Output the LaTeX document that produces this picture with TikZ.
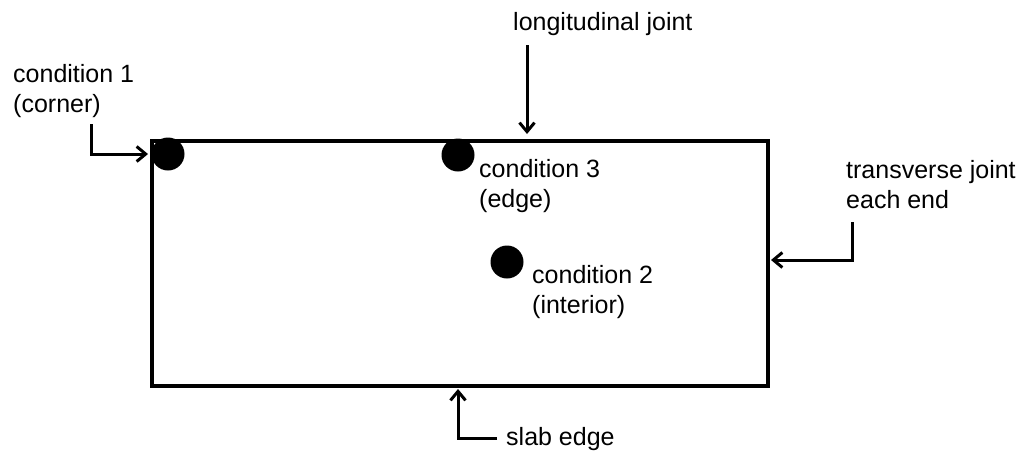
\documentclass[tikz,border=0pt]{standalone}
\usepackage{fontspec}
\setmainfont{Liberation Sans}
\usetikzlibrary{arrows.meta}
\tikzset{
  lbl/.style={inner sep=0pt, align=left, anchor=base west, font=\fontsize{25}{30.5}\selectfont},
  dot/.style={circle, fill=black, inner sep=0pt, minimum size=33pt},
  ptr/.style={line width=3pt, -{Straight Barb[length=9pt,width=15pt,line width=3pt]}},
}
\begin{document}
\begin{tikzpicture}[x=1pt,y=-1pt]
\useasboundingbox (0,0) rectangle (1028,458);
% slab
\node[draw, line width=4pt, minimum width=616pt, minimum height=245pt, inner sep=0pt, anchor=north west] (slab) at (150,139) {};
% dots
\node[dot] (d1) at (168,154) {};
\node[dot] (d3) at (458,155) {};
\node[dot] (d2) at (507,262) {};
% labels (base = baseline of last line)
\node[lbl] (c1) at (13,112.5) {condition 1\\(corner)};
\node[lbl] (lj) at (513,30) {longitudinal joint};
\node[lbl] (c3) at (479,207.5) {condition 3\\(edge)};
\node[lbl] (c2) at (532,313.5) {condition 2\\(interior)};
\node[lbl] (tj) at (846,208.5) {transverse joint\\each end};
\node[lbl] (se) at (506,445) {slab edge};
% arrow coordinates
\coordinate (a1s) at (91,124);
\coordinate (a1b) at (91,154);
\coordinate (a1e) at (148,154);
\coordinate (ljs) at (527,45);
\coordinate (lje) at (527,134);
\coordinate (tjs) at (852,222);
\coordinate (tjb) at (852,260);
\coordinate (tje) at (771,260);
\coordinate (ses) at (497,438);
\coordinate (seb) at (458,438);
\coordinate (see) at (458,389);
\draw[ptr] (a1s) -- (a1b) -- (a1e);
\draw[ptr] (ljs) -- (lje);
\draw[ptr] (tjs) -- (tjb) -- (tje);
\draw[ptr] (ses) -- (seb) -- (see);
\end{tikzpicture}
\end{document}
